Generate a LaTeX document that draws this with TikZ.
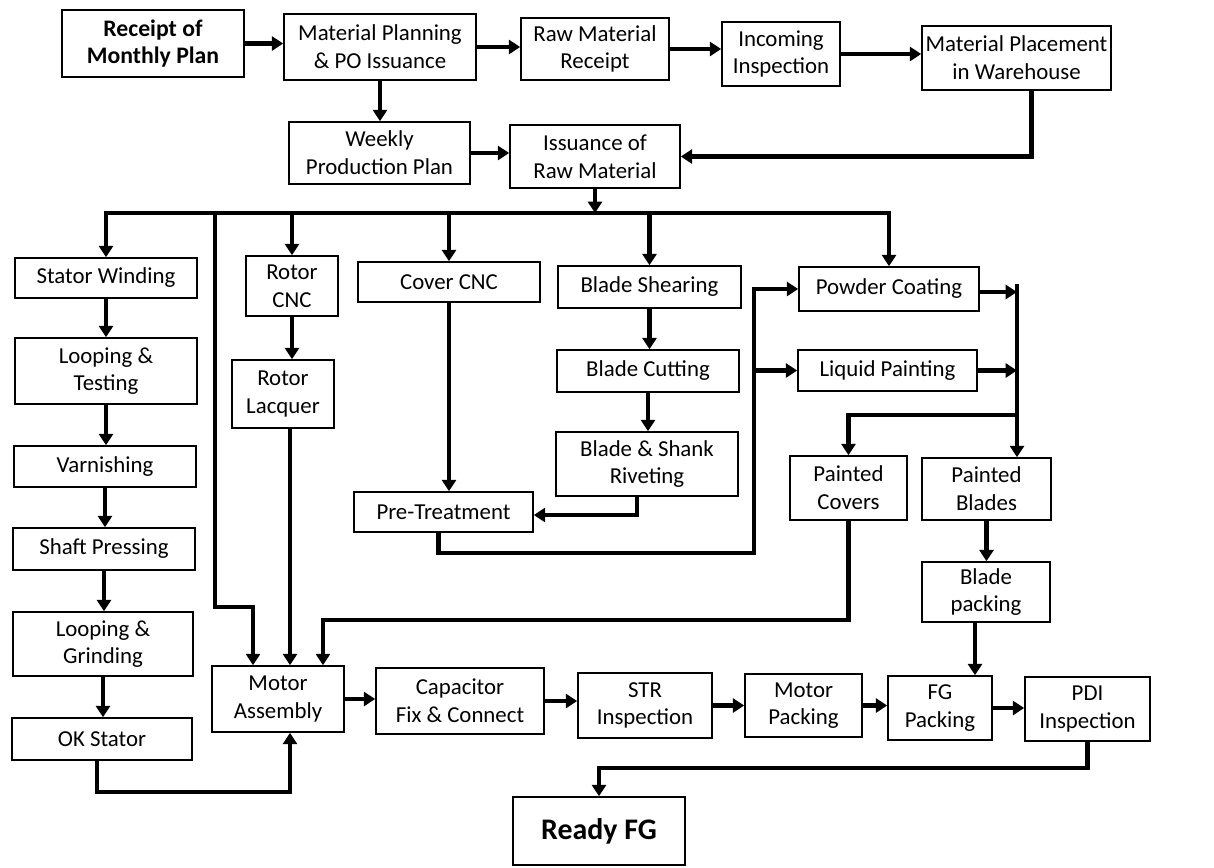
\documentclass[tikz,border=0pt]{standalone}
\usepackage{fontspec}
\setmainfont{Carlito}
\usetikzlibrary{arrows.meta, positioning}

\begin{document}
\begin{tikzpicture}[x=0.02cm, y=-0.02cm]
            % Define styles
            \tikzstyle{box} = [rectangle, draw, line width=0.9pt, align=center, inner sep=1pt, font=\fontsize{13}{15.8}\selectfont]
            \tikzstyle{flow} = [draw, line width=2.3pt, -{Triangle[length=6.5pt, width=8pt]}]
            \tikzstyle{link} = [draw, line width=2.3pt]
            \tikzset{wh/.style 2 args={minimum width=#1*0.02cm, minimum height=#2*0.02cm}}

            \useasboundingbox (0,0) rectangle (1214,867);

            % Planning row
            \node[box, wh={182}{67}, font=\fontsize{13.5}{15.8}\selectfont\bfseries] (rcpt) at (153,43.5) {Receipt of\\Monthly Plan};
            \node[box, wh={192}{66}] (mpo) at (380,47) {Material Planning\\\& PO Issuance};
            \node[box, wh={148}{62}] (rawm) at (595,49) {Raw Material\\Receipt};
            \node[box, wh={118}{64}] (incin) at (781,54) {Incoming\\Inspection};
            \node[box, wh={189}{64}] (place) at (1016.5,58) {Material Placement\\in Warehouse};
            \node[box, wh={181}{62}] (weekly) at (379.5,153) {Weekly\\Production Plan};
            \node[box, wh={170}{63}] (issue) at (595,156.5) {Issuance of\\Raw Material};

            % Stator line
            \node[box, wh={182}{40}] (stwind) at (106,278) {Stator Winding};
            \node[box, wh={182}{66}] (looptest) at (106,371) {Looping \&\\Testing};
            \node[box, wh={182}{41}] (varnish) at (105,466.5) {Varnishing};
            \node[box, wh={182}{42}] (shaft) at (104,549) {Shaft Pressing};
            \node[box, wh={180}{64}] (loopgrind) at (103,644) {Looping \&\\Grinding};
            \node[box, wh={180}{42}] (okstat) at (102,739) {OK Stator};

            % Rotor, cover and blade lines
            \node[box, wh={92}{60}] (rotcnc) at (292,286) {Rotor\\CNC};
            \node[box, wh={102}{68}] (rotlac) at (283,394) {Rotor\\Lacquer};
            \node[box, wh={182}{40}] (covcnc) at (449,282) {Cover CNC};
            \node[box, wh={183}{42}] (bshear) at (649.5,287) {Blade Shearing};
            \node[box, wh={182}{42}] (bcut) at (648,371) {Blade Cutting};
            \node[box, wh={182}{64}] (rivet) at (647,464) {Blade \& Shank\\Riveting};
            \node[box, wh={179}{40}] (pretreat) at (443.5,512) {Pre-Treatment};

            % Painting
            \node[box, wh={180}{44}] (powder) at (889,289) {Powder Coating};
            \node[box, wh={179}{41}] (liquid) at (887.5,370.5) {Liquid Painting};
            \node[box, wh={117}{64}] (pcover) at (848.5,488) {Painted\\Covers};
            \node[box, wh={129}{62}] (pblade) at (986.5,489) {Painted\\Blades};
            \node[box, wh={128}{60}] (bpack) at (986,592) {Blade\\packing};

            % Assembly row
            \node[box, wh={132}{66}] (motasm) at (278,699) {Motor\\Assembly};
            \node[box, wh={168}{66}] (capfix) at (460,701) {Capacitor\\Fix \& Connect};
            \node[box, wh={134}{65}] (strinsp) at (645,705.5) {STR\\Inspection};
            \node[box, wh={117}{63}] (motpack) at (803.5,705.5) {Motor\\Packing};
            \node[box, wh={104}{64}] (fgpack) at (940,708) {FG\\Packing};
            \node[box, wh={125}{64}] (pdi) at (1087.5,709) {PDI\\Inspection};
            \node[box, wh={172}{68}, font=\fontsize{17}{20}\selectfont\bfseries] (ready) at (599,831) {Ready FG};

            % Turning points
            \coordinate (busY) at (0,213);
            \coordinate (tapturn) at (215,607);
            \coordinate (ptbend) at (754,553);
            \coordinate (pmerge) at (1017,0);
            \coordinate (psplit) at (1017,415);
            \coordinate (pcturn) at (0,620);
            \coordinate (okturn) at (0,792);
            \coordinate (rdturn) at (0,768);

            % Planning connections
            \draw[flow] (rcpt.east) -- (rcpt.east -| mpo.west);
            \draw[flow] (mpo.east) -- (mpo.east -| rawm.west);
            \draw[flow] (rawm.east) -- (rawm.east -| incin.west);
            \draw[flow] (incin.east) -- (incin.east -| place.west);
            \draw[flow] (mpo.south) -- (mpo.south |- weekly.north);
            \draw[flow] (weekly.east) -- (weekly.east -| issue.west);
            \draw[flow] ([xshift=0.3cm]place.south) |- (issue.east);

            % Distribution bus
            \draw[flow] (issue.south) -- (issue.south |- busY);
            \draw[flow] (rotcnc.north |- busY) -| (stwind.north);
            \draw[flow] (rotcnc.north |- busY) -| (powder.north);
            \draw[flow] (rotcnc.north |- busY) -- (rotcnc.north);
            \draw[flow] (covcnc.north |- busY) -- (covcnc.north);
            \draw[flow] (bshear.north |- busY) -- (bshear.north);
            \draw[flow] (tapturn |- busY) -- (tapturn) -| ([xshift=-0.5cm]motasm.north);

            % Stator line
            \draw[flow] (stwind.south) -- (stwind.south |- looptest.north);
            \draw[flow] (looptest.south) -- (looptest.south |- varnish.north);
            \draw[flow] (varnish.south) -- (varnish.south |- shaft.north);
            \draw[flow] (shaft.south) -- (shaft.south |- loopgrind.north);
            \draw[flow] (loopgrind.south) -- (loopgrind.south |- okstat.north);
            \draw[flow] ([xshift=-0.1cm]okstat.south) -- ([xshift=-0.1cm]okstat.south |- okturn) -| ([xshift=0.24cm]motasm.south);

            % Rotor and cover
            \draw[flow] (rotcnc.south) -- (rotcnc.south |- rotlac.north);
            \draw[flow] ([xshift=0.14cm]rotlac.south) -- ([xshift=0.14cm]rotlac.south |- motasm.north);
            \draw[flow] (covcnc.south) -- (covcnc.south |- pretreat.north);

            % Blades
            \draw[flow] (bshear.south) -- (bshear.south |- bcut.north);
            \draw[flow] (bcut.south) -- (bcut.south |- rivet.north);
            \draw[flow] ([xshift=-0.2cm]rivet.south) |- ([yshift=-0.06cm]pretreat.east);

            % Painting
            \draw[flow] ([xshift=-0.1cm]pretreat.south) |- (ptbend) |- (powder.west);
            \draw[flow] (ptbend |- liquid.west) -- (liquid.west);
            \draw[flow] ([yshift=-0.06cm]powder.east) -- ([yshift=-0.06cm]powder.east -| pmerge);
            \draw[flow] (liquid.east) -- (liquid.east -| pmerge);
            \draw[link] ([yshift=0.1cm]powder.east -| pmerge) -- (psplit);
            \draw[flow] (psplit) -- (psplit |- pblade.north);
            \draw[flow] (psplit) -| (pcover.north);
            \draw[flow] (pblade.south) -- (pblade.south |- bpack.north);
            \draw[flow] (pcover.south) -- (pcover.south |- pcturn) -| ([xshift=0.9cm]motasm.north);
            \draw[flow] ([xshift=-0.22cm]bpack.south) -- ([xshift=-0.22cm]bpack.south |- fgpack.north);

            % Assembly row
            \draw[flow] (motasm.east) -- (motasm.east -| capfix.west);
            \draw[flow] (capfix.east) -- (capfix.east -| strinsp.west);
            \draw[flow] (strinsp.east) -- (strinsp.east -| motpack.west);
            \draw[flow] (motpack.east) -- (motpack.east -| fgpack.west);
            \draw[flow] (fgpack.east) -- (fgpack.east -| pdi.west);
            \draw[flow] (pdi.south) -- (pdi.south |- rdturn) -| (ready.north);
\end{tikzpicture}
\end{document}
